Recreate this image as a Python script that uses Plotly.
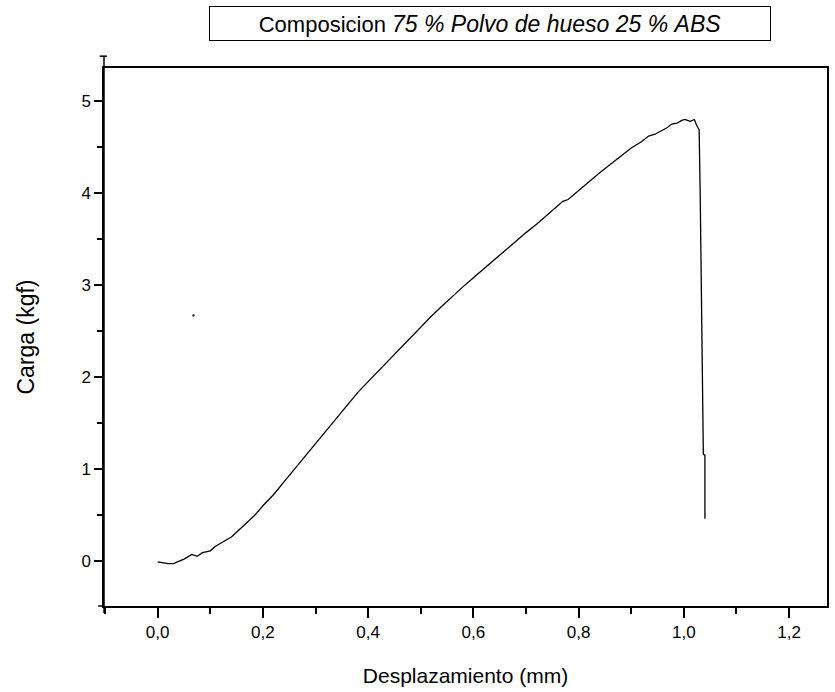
import plotly.graph_objects as go

# Curve data (desplazamiento mm, carga kgf)
desplazamiento = [0.00, 0.02, 0.03, 0.05, 0.065, 0.075, 0.085, 0.10, 0.11, 0.125, 0.14, 0.155,
                  0.17, 0.185, 0.20, 0.22, 0.24, 0.26, 0.28, 0.30, 0.32, 0.34, 0.36, 0.38,
                  0.40, 0.42, 0.44, 0.46, 0.48, 0.50, 0.52, 0.54, 0.56, 0.58, 0.60, 0.62,
                  0.64, 0.66, 0.68, 0.70, 0.72, 0.74, 0.76, 0.77, 0.78, 0.80, 0.82, 0.84,
                  0.86, 0.88, 0.90, 0.92, 0.933, 0.945, 0.958, 0.968, 0.977, 0.987, 0.996,
                  1.002, 1.012, 1.02, 1.024, 1.029, 1.031, 1.033, 1.035, 1.037, 1.040, 1.040]
carga = [-0.01, -0.03, -0.03, 0.02, 0.07, 0.05, 0.09, 0.11, 0.16, 0.21, 0.26, 0.34,
         0.42, 0.50, 0.60, 0.72, 0.86, 1.00, 1.14, 1.28, 1.42, 1.56, 1.70, 1.83,
         1.95, 2.07, 2.19, 2.31, 2.43, 2.55, 2.66, 2.77, 2.88, 2.98, 3.08, 3.18,
         3.28, 3.38, 3.47, 3.57, 3.66, 3.76, 3.87, 3.91, 3.93, 4.03, 4.13, 4.22,
         4.31, 4.40, 4.49, 4.56, 4.62, 4.64, 4.68, 4.71, 4.75, 4.76, 4.79,
         4.80, 4.78, 4.80, 4.74, 4.69, 4.00, 3.00, 2.00, 1.16, 1.15, 0.46]

# Stray point
punto_x = [0.068]
punto_y = [2.67]

x_ticks = [0.0, 0.2, 0.4, 0.6, 0.8, 1.0, 1.2]
x_ticktext = ["0,0", "0,2", "0,4", "0,6", "0,8", "1,0", "1,2"]
y_ticks = [0, 1, 2, 3, 4, 5]
y_ticktext = ["0", "1", "2", "3", "4", "5"]

FONT = "Liberation Sans, Arial, sans-serif"

fig = go.Figure()
fig.add_trace(go.Scatter(x=desplazamiento, y=carga, mode="lines",
                         line=dict(color="black", width=1.3), showlegend=False))
fig.add_trace(go.Scatter(x=punto_x, y=punto_y, mode="markers",
                         marker=dict(color="#333333", size=2.5), showlegend=False))

fig.update_layout(
    width=835, height=692,
    margin=dict(l=104, r=6, t=68, b=86),
    paper_bgcolor="white", plot_bgcolor="white",
    font=dict(family=FONT, color="black"),
    xaxis=dict(
        range=[-0.102, 1.272], tickvals=x_ticks, ticktext=x_ticktext,
        showgrid=False, zeroline=False, showline=True, mirror=True,
        linecolor="black", linewidth=1.5,
        ticks="outside", ticklen=10, tickwidth=1.5, tickcolor="black",
        minor=dict(dtick=0.1, tick0=0, ticks="outside", ticklen=6, tickwidth=1.5, tickcolor="black"),
        tickfont=dict(size=17, family=FONT),
        title=dict(text="Desplazamiento (mm)", font=dict(size=21, family=FONT), standoff=27),
    ),
    yaxis=dict(
        range=[-0.49, 5.36], tickvals=y_ticks, ticktext=y_ticktext,
        showgrid=False, zeroline=False, showline=True, mirror=True,
        linecolor="black", linewidth=1.5,
        ticks="outside", ticklen=8, tickwidth=1.5, tickcolor="black",
        minor=dict(dtick=0.5, tick0=0, ticks="outside", ticklen=5, tickwidth=1.5, tickcolor="black"),
        tickfont=dict(size=17, family=FONT),
        title=dict(text="Carga (kgf)", font=dict(size=23, family=FONT), standoff=40),
    ),
)

# overhanging axis lines (Origin style)
fig.add_shape(type="line", xref="paper", yref="paper", x0=0, x1=0, y0=-0.013, y1=1.022,
              line=dict(color="black", width=1.5))
fig.add_shape(type="line", xref="paper", yref="paper", x0=-0.008, x1=0, y0=0, y1=0,
              line=dict(color="black", width=1.5))
fig.add_shape(type="line", xref="paper", yref="paper", x0=-0.006, x1=0.004, y0=1.022, y1=1.022,
              line=dict(color="black", width=1.5))

fig.add_annotation(
    xref="paper", yref="paper", x=0.534, y=1.0827, xanchor="center", yanchor="middle",
    text="Composicion <i><span style='font-size:23px'>75&nbsp;%&nbsp;Polvo de hueso 25&nbsp;%&nbsp;ABS</span></i>",
    showarrow=False,
    font=dict(size=22, family=FONT, color="black"),
    bordercolor="black", borderwidth=1, borderpad=0, width=560, height=33,
    bgcolor="white", align="center",
)

fig.write_html("out.html")
